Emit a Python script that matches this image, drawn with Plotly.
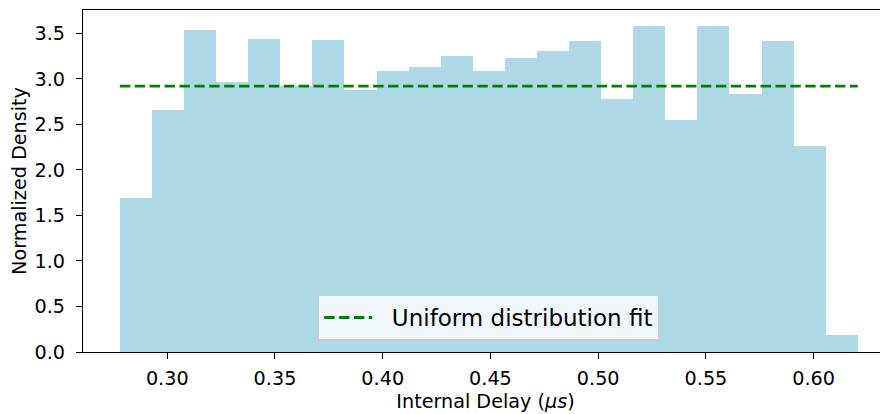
import plotly.graph_objects as go

# Histogram data (density-normalized)
bin_start = 0.2780
bin_width = 0.01489
density = [1.687, 2.654, 3.533, 2.962, 3.434, 2.921, 3.423, 2.877, 3.082, 3.126,
           3.247, 3.082, 3.225, 3.302, 3.412, 2.775, 3.577, 2.544, 3.577, 2.830,
           3.412, 2.258, 0.192]

x_ticks = [0.30, 0.35, 0.40, 0.45, 0.50, 0.55, 0.60]
y_ticks = [0.0, 0.5, 1.0, 1.5, 2.0, 2.5, 3.0, 3.5]

n = len(density)
edges = [bin_start + i * bin_width for i in range(n + 1)]
centers = [(edges[i] + edges[i + 1]) / 2 for i in range(n)]
x_min, x_max = edges[0], edges[-1]
uniform_y = 1.0 / (x_max - x_min)

font_family = "DejaVu Sans"
base_size = 19.2

fig = go.Figure()
fig.add_trace(go.Bar(
    x=centers, y=density, width=bin_width,
    marker=dict(color="#add8e6", line=dict(width=0)),
    showlegend=False,
))
fig.add_trace(go.Scatter(
    x=[x_min, x_max], y=[uniform_y, uniform_y], mode="lines",
    line=dict(color="#008000", width=2.8, dash="10.4px,4.5px"),
    name="\u00a0\u00a0Uniform distribution fit",
))

# The page body has an 8px default margin, so the figure is 8px smaller
fig.update_layout(
    width=880, height=406,
    margin=dict(l=75, r=0, t=2, b=62),
    plot_bgcolor="white", paper_bgcolor="white",
    bargap=0,
    font=dict(family=font_family, size=base_size, color="black"),
    legend=dict(
        x=0.504, y=0.035, xanchor="center", yanchor="bottom",
        itemwidth=48,
        bgcolor="rgba(255,255,255,0.8)", bordercolor="#cccccc", borderwidth=1,
        font=dict(family=font_family, size=23, color="black"),
    ),
    xaxis=dict(
        range=[0.2609, 0.6345], automargin=False,
        tickvals=x_ticks, ticktext=[f"{v:.2f}" for v in x_ticks],
        tickfont=dict(size=base_size),
        showline=True, linecolor="black", linewidth=1.3, mirror=True,
        ticks="outside", ticklen=6, tickwidth=1.3, tickcolor="black",
        ticklabelstandoff=3,
        showgrid=False, zeroline=False,
        title=dict(text="Internal Delay (<i>μs</i>)", standoff=5,
                   font=dict(family=font_family, size=base_size)),
    ),
    yaxis=dict(
        range=[0, 3.756], automargin=False,
        tickvals=y_ticks, ticktext=[f"{v:.1f}" for v in y_ticks],
        tickfont=dict(size=base_size),
        showline=True, linecolor="black", linewidth=1.3,
        ticks="outside", ticklen=6, tickwidth=1.3, tickcolor="black",
        ticklabelstandoff=7,
        showgrid=False, zeroline=False,
        title=dict(text="Normalized Density", standoff=5,
                   font=dict(family=font_family, size=base_size)),
    ),
)

fig.write_html("out.html")
